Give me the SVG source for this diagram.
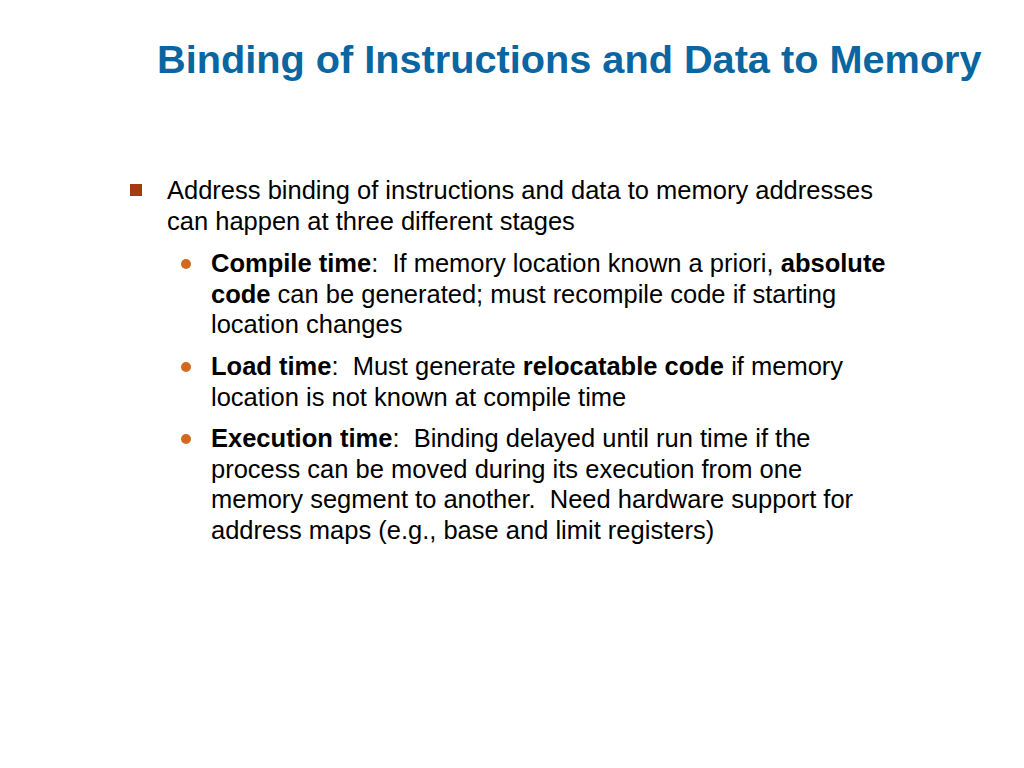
<svg xmlns="http://www.w3.org/2000/svg" width="1024" height="768" viewBox="0 0 1024 768">
<style>
.t{font-family:"Liberation Sans",Arial,Helvetica,sans-serif;font-weight:bold;font-size:39.7px;fill:#0b65a0}
.b{font-family:"Liberation Sans",Arial,Helvetica,sans-serif;font-size:25.5px;fill:#000;white-space:pre}
.k{font-weight:bold}
.sq{fill:#a33a10}
.dot{fill:#d2691e}
</style>
<rect width="1024" height="768" fill="#fff"/>
<text class="t" x="157" y="73">Binding of Instructions and Data to Memory</text>
<rect class="sq" x="130" y="184" width="12" height="12"/>
<text class="b" x="167" y="199">Address binding of instructions and data to memory addresses</text>
<text class="b" x="167" y="229.5">can happen at three different stages</text>
<circle class="dot" cx="186" cy="264" r="5"/>
<text class="b" x="211" y="272" xml:space="preserve"><tspan class="k">Compile time</tspan>:  If memory location known a priori, <tspan class="k">absolute</tspan></text>
<text class="b" x="211" y="302.5"><tspan class="k">code</tspan> can be generated; must recompile code if starting</text>
<text class="b" x="211" y="333">location changes</text>
<circle class="dot" cx="186" cy="367" r="5"/>
<text class="b" x="211" y="375" xml:space="preserve"><tspan class="k">Load time</tspan>:  Must generate <tspan class="k">relocatable code</tspan> if memory</text>
<text class="b" x="211" y="405.5">location is not known at compile time</text>
<circle class="dot" cx="186" cy="439" r="5"/>
<text class="b" x="211" y="447" xml:space="preserve"><tspan class="k">Execution time</tspan>:  Binding delayed until run time if the</text>
<text class="b" x="211" y="477.5">process can be moved during its execution from one</text>
<text class="b" x="211" y="508" xml:space="preserve">memory segment to another.  Need hardware support for</text>
<text class="b" x="211" y="538.5">address maps (e.g., base and limit registers)</text>
</svg>
